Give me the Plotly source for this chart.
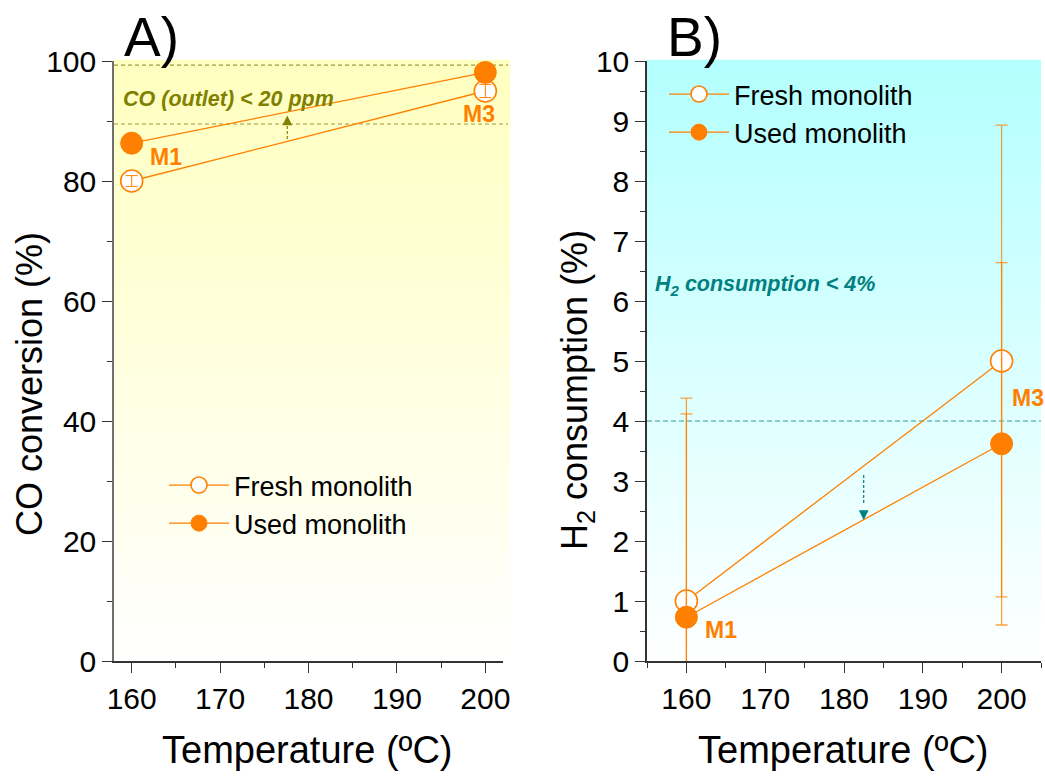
import plotly.graph_objects as go

# ---------------- data ----------------
temps = [160, 200]
# Panel A: CO conversion (%)
co_fresh = [80.0, 95.0]
co_fresh_err = [0.9, 1.1]
co_used = [86.3, 98.1]
# Panel B: H2 consumption (%)
h2_fresh = [1.0, 5.0]
h2_fresh_err = [3.12, 3.93]
h2_used = [0.73, 3.62]
h2_used_err = [3.65, 3.02]

co_limit_lines = [99.3, 89.5]
h2_limit = 4.0

ORANGE = "#FF8000"
OLIVE = "#808000"
TEAL = "#008080"
FONT = "Liberation Sans, Arial, sans-serif"
W, H = 1045, 776

def px_x(p):
    return p / W

def px_y(p):
    return 1 - p / H

fig = go.Figure()

xa_dom = [px_x(114), px_x(503)]
xb_dom = [px_x(647), px_x(1041)]
y_dom = [px_y(661), px_y(61)]

# ---- Panel A traces ----
fig.add_trace(go.Scatter(x=temps, y=co_fresh, mode="lines+markers", name="Fresh monolith",
                         line=dict(color=ORANGE, width=1.3),
                         marker=dict(symbol="circle", size=22, color="white", line=dict(color=ORANGE, width=1.6)),
                         xaxis="x", yaxis="y", legend="legend"))
fig.add_trace(go.Scatter(x=temps, y=co_used, mode="lines+markers", name="Used monolith",
                         line=dict(color=ORANGE, width=1.3),
                         marker=dict(symbol="circle", size=22, color=ORANGE, line=dict(color=ORANGE, width=1)),
                         xaxis="x", yaxis="y", legend="legend"))
fig.add_trace(go.Scatter(x=temps, y=co_fresh, mode="markers", showlegend=False,
                         marker=dict(size=1, color="rgba(0,0,0,0)"),
                         error_y=dict(type="data", array=co_fresh_err, color=ORANGE, thickness=1, width=6),
                         xaxis="x", yaxis="y"))

# ---- Panel B traces ----
fig.add_trace(go.Scatter(x=temps, y=h2_fresh, mode="lines+markers", name="Fresh monolith",
                         line=dict(color=ORANGE, width=1.3),
                         marker=dict(symbol="circle", size=22, color="white", line=dict(color=ORANGE, width=1.6)),
                         xaxis="x2", yaxis="y2", legend="legend2"))
fig.add_trace(go.Scatter(x=temps, y=h2_used, mode="lines+markers", name="Used monolith",
                         line=dict(color=ORANGE, width=1.3),
                         marker=dict(symbol="circle", size=22, color=ORANGE, line=dict(color=ORANGE, width=1)),
                         xaxis="x2", yaxis="y2", legend="legend2"))
fig.add_trace(go.Scatter(x=temps, y=h2_fresh, mode="markers", showlegend=False,
                         marker=dict(size=1, color="rgba(0,0,0,0)"),
                         error_y=dict(type="data", array=h2_fresh_err, color="rgba(255,128,0,0.75)", thickness=1.3, width=6),
                         xaxis="x2", yaxis="y2"))
fig.add_trace(go.Scatter(x=temps, y=h2_used, mode="markers", showlegend=False,
                         marker=dict(size=1, color="rgba(0,0,0,0)"),
                         error_y=dict(type="data", array=h2_used_err, color="rgba(255,128,0,0.75)", thickness=1.3, width=6),
                         xaxis="x2", yaxis="y2"))

# ---------------- shapes ----------------
shapes = []
N = 60
def grad(xref, yref, top_rgb, x1):
    for i in range(N):
        f = (i + 0.5) / N  # 0 bottom -> 1 top
        r = int(255 + (top_rgb[0] - 255) * f)
        g = int(255 + (top_rgb[1] - 255) * f)
        b = int(255 + (top_rgb[2] - 255) * f)
        shapes.append(dict(type="rect", xref=xref, yref=yref, x0=0, x1=x1,
                           y0=i / N, y1=(i + 1) / N + 0.002, layer="below",
                           line=dict(width=0), fillcolor=f"rgb({r},{g},{b})"))
grad("x domain", "y domain", (255, 255, 192), 1.018)
grad("x2 domain", "y2 domain", (180, 255, 255), 1.0)

for yv in co_limit_lines:
    shapes.append(dict(type="line", xref="x domain", yref="y", x0=0, x1=1.013, y0=yv, y1=yv, layer="below",
                       line=dict(color="#9A9A40", width=1.2, dash="4px,3px")))
shapes.append(dict(type="line", xref="x2 domain", yref="y2", x0=0, x1=1, y0=h2_limit, y1=h2_limit, layer="below",
                   line=dict(color="#3A9A9A", width=1.2, dash="5px,3px")))
# dashed arrow stems
shapes.append(dict(type="line", xref="x", yref="y", x0=177.6, x1=177.6, y0=87.0, y1=89.8, layer="below",
                   line=dict(color=OLIVE, width=1.2, dash="3px,2px")))
shapes.append(dict(type="line", xref="x2", yref="y2", x0=182.5, x1=182.5, y0=3.1, y1=2.6, layer="below",
                   line=dict(color=TEAL, width=1.2, dash="3px,2px")))

# ---------------- annotations ----------------
ann = []
def txt(x, y, text, size, color="black", xref="paper", yref="paper", **kw):
    d = dict(x=x, y=y, xref=xref, yref=yref, text=text, showarrow=False,
             xanchor="center", yanchor="middle",
             font=dict(family=FONT, size=size, color=color))
    d.update(kw)
    ann.append(d)

txt(px_x(151), px_y(37), "A)", 55)
txt(px_x(694), px_y(37), "B)", 55)
txt(px_x(29), px_y(384), "CO conversion (%)", 36, textangle=-90)
txt(px_x(577), px_y(390), "H<sub>2</sub> consumption (%)", 36, textangle=-90)
txt(px_x(307), px_y(750), "Temperature (ºC)", 38)
txt(px_x(843), px_y(750), "Temperature (ºC)", 38)

txt(158.8, 93.6, "<b><i>CO (outlet) < 20 ppm</i></b>", 21.5, OLIVE, xref="x", yref="y", xanchor="left")
txt(155.7, 6.25, "<b><i>H<sub>2</sub> consumption < 4%</i></b>", 21.5, TEAL, xref="x2", yref="y2", xanchor="left")

txt(163.9, 84.0, "<b>M1</b>", 23, ORANGE, xref="x", yref="y")
txt(199.3, 91.2, "<b>M3</b>", 23, ORANGE, xref="x", yref="y")
txt(164.4, 0.52, "<b>M1</b>", 23, ORANGE, xref="x2", yref="y2")
txt(203.3, 4.39, "<b>M3</b>", 23, ORANGE, xref="x2", yref="y2")

# arrowheads
ann.append(dict(x=177.6, y=90.9, xref="x", yref="y", ax=0, ay=8, text="", showarrow=True,
                arrowhead=2, arrowsize=1.3, arrowwidth=1.5, arrowcolor=OLIVE))
ann.append(dict(x=182.5, y=2.35, xref="x2", yref="y2", ax=0, ay=-8, text="", showarrow=True,
                arrowhead=2, arrowsize=1.3, arrowwidth=1.5, arrowcolor=TEAL))

axis_common = dict(showline=True, linecolor="#333333", linewidth=1.5, ticks="outside",
                   ticklen=10, tickwidth=1.3, tickcolor="#333333", showgrid=False, zeroline=False,
                   automargin=False,
                   tickfont=dict(family=FONT, size=30, color="black"))
minor_common = dict(ticks="outside", ticklen=5, tickcolor="#333333", tickwidth=1.2)

legend_common = dict(xanchor="left", yanchor="top", bgcolor="rgba(0,0,0,0)",
                     font=dict(family=FONT, size=27, color="black"), itemsizing="trace",
                     itemwidth=60, tracegroupgap=0)

fig.update_layout(
    width=W, height=H,
    margin=dict(l=0, r=0, t=0, b=0, pad=0, autoexpand=False),
    paper_bgcolor="white", plot_bgcolor="rgba(0,0,0,0)",
    font=dict(family=FONT, color="black"),
    xaxis=dict(domain=xa_dom, range=[158, 202], tickmode="array", tickvals=[160, 170, 180, 190, 200],
               minor=dict(dtick=5, tick0=155, **minor_common),
               anchor="y", **axis_common),
    yaxis=dict(domain=y_dom, range=[0, 100], dtick=20,
               minor=dict(dtick=10, **minor_common),
               anchor="x", **{**axis_common, "linecolor": "#707070"}),
    xaxis2=dict(domain=xb_dom, range=[155, 205], tickmode="array", tickvals=[160, 170, 180, 190, 200],
                minor=dict(dtick=5, tick0=155, **minor_common),
                anchor="y2", **axis_common),
    yaxis2=dict(domain=y_dom, range=[0, 10], dtick=1,
                minor=dict(dtick=0.5, **minor_common),
                anchor="x2", **axis_common),
    legend=dict(x=px_x(164), y=px_y(461), **legend_common),
    legend2=dict(x=px_x(664), y=px_y(70), **legend_common),
    shapes=shapes,
    annotations=ann,
    showlegend=True,
)

fig.write_html("out.html")
